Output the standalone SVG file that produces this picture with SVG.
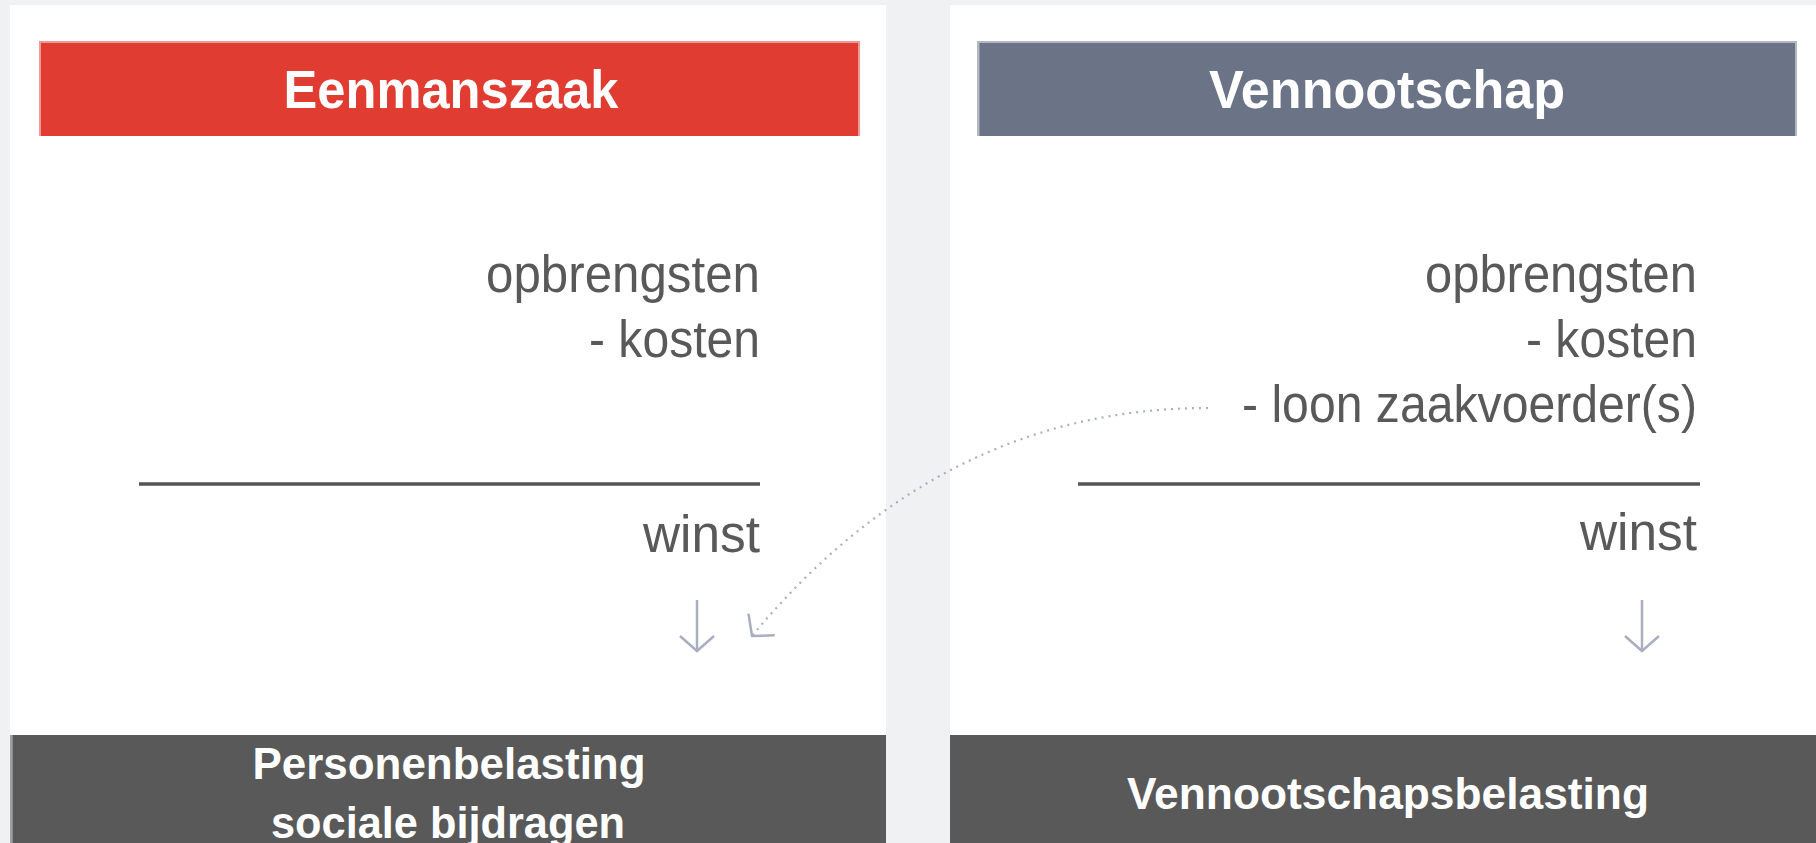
<svg xmlns="http://www.w3.org/2000/svg" width="1816" height="843" viewBox="0 0 1816 843">
<style>
.panel{fill:#ffffff}
.hdr{font-family:"Liberation Sans",Arial,sans-serif;font-weight:bold;font-size:54px;fill:#ffffff;text-anchor:middle}
.ftr{font-family:"Liberation Sans",Arial,sans-serif;font-weight:bold;font-size:45px;fill:#ffffff;text-anchor:middle}
.calc{font-family:"Liberation Sans",Arial,sans-serif;font-size:51px;fill:#595959;text-anchor:end}
.rule{stroke:#555555;stroke-width:3.5}
.flow{fill:none;stroke:#A9AFBF;stroke-width:2.5}
.dot{fill:none;stroke:#A9AFBF;stroke-width:2.2;stroke-dasharray:2 5}
.bar{fill:#595959}
</style>
<defs>
<marker id="chev" markerUnits="userSpaceOnUse" markerWidth="40" markerHeight="40" viewBox="-20 -20 40 40" refX="0" refY="0" orient="auto">
<path d="M-15,-17 L0,0 L-15,17" fill="none" stroke="#A9AFBF" stroke-width="2.5" stroke-dasharray="none"/>
</marker>
</defs>
<rect x="0" y="0" width="1816" height="843" fill="#F0F1F3"/>

<g id="eenmanszaak">
<rect class="panel" x="10" y="5" width="876" height="838"/>
<rect x="39" y="41" width="821" height="95" fill="#E03C31"/>
<path d="M40,136 V42 H859 V136" fill="none" stroke="#EE9A94" stroke-width="2"/>
<text class="hdr" x="451" y="108" textLength="335" lengthAdjust="spacingAndGlyphs">Eenmanszaak</text>
<text class="calc" x="760" y="292" textLength="274" lengthAdjust="spacingAndGlyphs">opbrengsten</text>
<text class="calc" x="760" y="357" textLength="171" lengthAdjust="spacingAndGlyphs">- kosten</text>
<line class="rule" x1="139" y1="484" x2="760" y2="484"/>
<text class="calc" x="760" y="552" textLength="117" lengthAdjust="spacingAndGlyphs">winst</text>
</g>

<g id="personenbelasting">
<rect class="bar" x="10" y="735" width="876" height="108"/>
<rect x="10" y="735" width="2.7" height="108" fill="#A0A0A0"/>
<text class="ftr" x="449" y="779" textLength="393" lengthAdjust="spacingAndGlyphs">Personenbelasting</text>
<text class="ftr" x="448" y="838" textLength="354" lengthAdjust="spacingAndGlyphs">sociale bijdragen</text>
</g>

<g id="vennootschap">
<rect class="panel" x="950" y="5" width="866" height="838"/>
<rect x="977.5" y="41" width="819.5" height="95" fill="#6B7386"/>
<path d="M978.5,136 V42 H1796 V136" fill="none" stroke="#B2B7C2" stroke-width="2"/>
<text class="hdr" x="1387" y="108" textLength="356" lengthAdjust="spacingAndGlyphs">Vennootschap</text>
<text class="calc" x="1697" y="292" textLength="272" lengthAdjust="spacingAndGlyphs">opbrengsten</text>
<text class="calc" x="1697" y="357" textLength="171" lengthAdjust="spacingAndGlyphs">- kosten</text>
<text class="calc" x="1697" y="422" textLength="455" lengthAdjust="spacingAndGlyphs">- loon zaakvoerder(s)</text>
<line class="rule" x1="1078" y1="484" x2="1700" y2="484"/>
<text class="calc" x="1697" y="550" textLength="117" lengthAdjust="spacingAndGlyphs">winst</text>
</g>

<g id="vennootschapsbelasting">
<rect class="bar" x="950" y="735" width="866" height="108"/>
<text class="ftr" x="1388" y="809" textLength="522" lengthAdjust="spacingAndGlyphs">Vennootschapsbelasting</text>
</g>

<g id="connectors">
<path class="flow" d="M697,600 V651" marker-end="url(#chev)"/>
<path class="flow" d="M1642,600 V651" marker-end="url(#chev)"/>
<path class="dot" d="M1208,408 Q941,408 752,636" marker-end="url(#chev)"/>
</g>
</svg>
